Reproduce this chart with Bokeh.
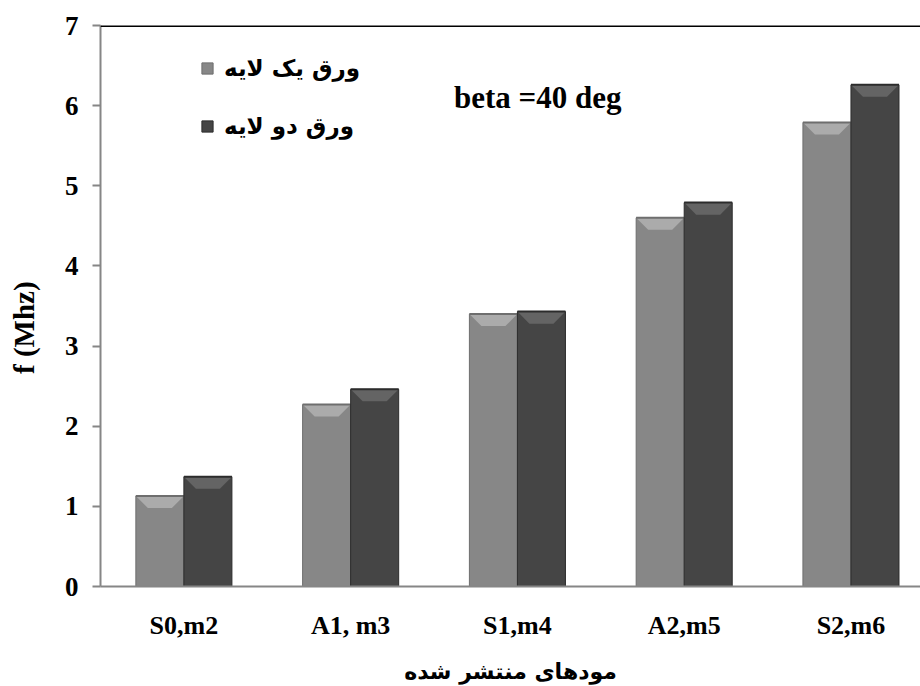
import numpy as np
from bokeh.plotting import figure
from bokeh.models import Range1d, Span, Legend, LegendItem, FixedTicker, Label
from bokeh.embed import file_html
from bokeh.resources import INLINE

categories = ["S0,m2", "A1, m3", "S1,m4", "A2,m5", "S2,m6"]
single_layer = [1.13, 2.27, 3.40, 4.60, 5.79]
double_layer = [1.37, 2.46, 3.43, 4.79, 6.26]
series_names = ["ورق یک لایه", "ورق دو لایه"]
y_ticks = [0, 1, 2, 3, 4, 5, 6, 7]
x_title = "مودهای منتشر شده"
y_title = "f (Mhz)"
note = "beta =40 deg"

FONT = "Liberation Serif"
AFONT = "DejaVu Sans"

p = figure(width=920, height=686, output_backend="svg", toolbar_location=None,
           x_range=Range1d(0, 4.917), y_range=Range1d(0, 7),
           min_border_left=100, min_border_right=0, min_border_top=25, min_border_bottom=100)
p.outline_line_color = None
p.xgrid.visible = False
p.ygrid.visible = False

centers = np.arange(len(categories)) + 0.5
bw = 0.288
bev_x = 0.072
bev_y = 0.15

styles = [
    dict(body="#878787", edge="#6e6e6e", top="#ababab"),
    dict(body="#454545", edge="#2c2c2c", top="#646464"),
]

renderers = []
for k, (vals, st) in enumerate(zip([single_layer, double_layer], styles)):
    vals = np.array(vals)
    left = centers - bw if k == 0 else centers
    right = left + bw
    r = p.quad(left=left, right=right, bottom=0, top=vals, fill_color=st["body"],
               line_color=st["edge"], line_width=1)
    renderers.append(r)
    xs = [[l, r_, r_ - bev_x, l + bev_x] for l, r_ in zip(left, right)]
    ys = [[t, t, t - bev_y, t - bev_y] for t in vals]
    p.patches(xs=xs, ys=ys, fill_color=st["top"], line_color=None)
    p.segment(x0=left, x1=right, y0=vals, y1=vals, line_color=st["edge"], line_width=2)

top_line = Span(location=7, dimension="width", line_color="black", line_width=3)
p.add_layout(top_line)

# axes
p.xaxis.ticker = FixedTicker(ticks=list(centers))
p.xaxis.major_label_overrides = {float(c): lab for c, lab in zip(centers, categories)}
p.xaxis.major_tick_line_color = None
p.xaxis.minor_tick_line_color = None
p.xaxis.axis_line_color = "#868686"
p.xaxis.axis_line_width = 2
p.xaxis.major_label_text_font = FONT
p.xaxis.major_label_text_font_style = "bold"
p.xaxis.major_label_text_font_size = "26px"
p.xaxis.major_label_text_color = "black"
p.xaxis.major_label_standoff = 18
p.xaxis.axis_label = x_title
p.xaxis.axis_label_text_font = AFONT
p.xaxis.axis_label_text_font_style = "bold"
p.xaxis.axis_label_text_font_size = "22px"
p.xaxis.axis_label_text_color = "black"
p.xaxis.axis_label_standoff = 16

p.yaxis.ticker = FixedTicker(ticks=y_ticks)
p.yaxis.minor_tick_line_color = None
p.yaxis.major_tick_in = 0
p.yaxis.major_tick_out = 8
p.yaxis.major_tick_line_color = "#868686"
p.yaxis.major_tick_line_width = 2
p.yaxis.axis_line_color = "#868686"
p.yaxis.axis_line_width = 2
p.yaxis.major_label_text_font = FONT
p.yaxis.major_label_text_font_style = "bold"
p.yaxis.major_label_text_font_size = "27px"
p.yaxis.major_label_text_color = "black"
p.yaxis.major_label_standoff = 14
p.yaxis.axis_label = y_title + "\u00a0" * 6
p.yaxis.axis_label_text_font = FONT
p.yaxis.axis_label_text_font_style = "bold"
p.yaxis.axis_label_text_font_size = "29px"
p.yaxis.axis_label_text_color = "black"
p.yaxis.axis_label_standoff = 22

legend = Legend(items=[LegendItem(label=series_names[0], renderers=[renderers[0]]),
                       LegendItem(label=series_names[1], renderers=[renderers[1]])],
                location=(100, 447), orientation="vertical",
                glyph_width=14, glyph_height=14, label_standoff=10, spacing=32,
                padding=4, border_line_color=None, background_fill_alpha=0,
                label_text_font=AFONT, label_text_font_style="bold",
                label_text_font_size="23px", label_text_color="black")
p.add_layout(legend)

p.add_layout(Label(x=2.12, y=6.10, text=note, text_font=FONT, text_font_style="bold",
                   text_font_size="31px", text_baseline="middle", text_align="left",
                   text_color="black"))

open("out.html", "w").write(file_html(p, INLINE))
